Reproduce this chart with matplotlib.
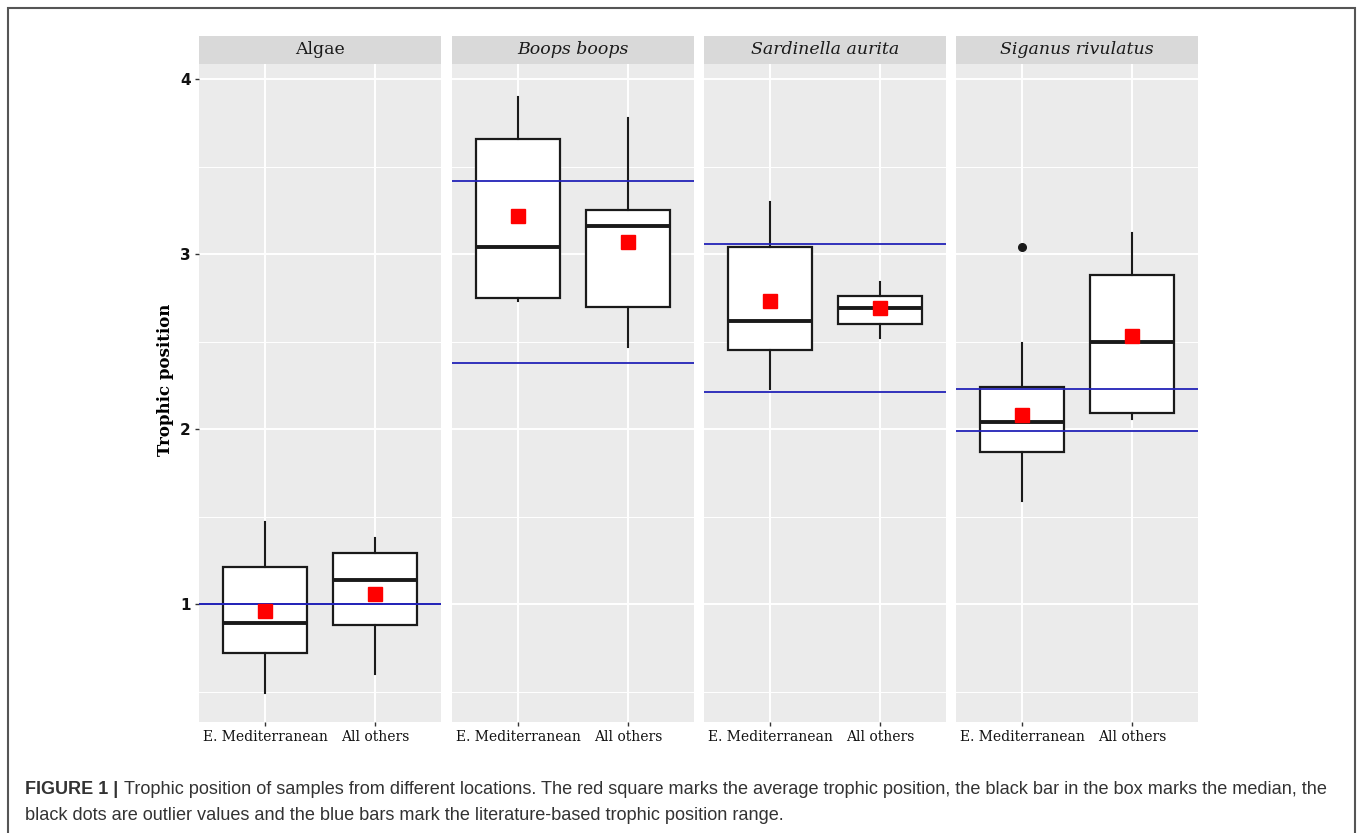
import matplotlib
matplotlib.use("Agg")
import matplotlib.pyplot as plt
from matplotlib.patches import Rectangle

# panels and groups
panels = ["Algae", "Boops boops", "Sardinella aurita", "Siganus rivulatus"]
italic_panel = [False, True, True, True]
groups = ["E. Mediterranean", "All others"]

# box statistics, one pair (E. Med, All others) per panel
whislo = [[0.49, 0.60], [2.73, 2.47], [2.23, 2.52], [1.59, 2.06]]
q1 = [[0.72, 0.88], [2.75, 2.70], [2.45, 2.60], [1.87, 2.09]]
med = [[0.89, 1.14], [3.04, 3.16], [2.62, 2.69], [2.04, 2.50]]
q3 = [[1.21, 1.29], [3.66, 3.25], [3.04, 2.76], [2.24, 2.88]]
whishi = [[1.47, 1.38], [3.90, 3.78], [3.30, 2.84], [2.49, 3.12]]
means = [[0.96, 1.06], [3.22, 3.07], [2.73, 2.69], [2.08, 2.53]]
outliers = [[[], []], [[], []], [[], []], [[3.04], []]]

# literature based trophic position range (low, high)
lit_range = [[1.0, 1.0], [2.38, 3.42], [2.21, 3.06], [1.99, 2.23]]

W, H = 1357, 833
fig = plt.figure(figsize=(W / 100, H / 100), dpi=100)

# outer frame of the figure box
fig.patches.append(Rectangle((8 / W, -0.01), (1355 - 8) / W, 1 - 8 / H + 0.01,
                             transform=fig.transFigure, fill=False,
                             edgecolor="#555555", linewidth=1.5))

panel_left = [199, 452, 704, 956]
panel_w = 242
top_px, bot_px, strip_px = 64, 722, 28

for i, name in enumerate(panels):
    l = panel_left[i] / W
    ax = fig.add_axes([l, 1 - bot_px / H, panel_w / W, (bot_px - top_px) / H])
    ax.set_facecolor("#EBEBEB")
    for s in ax.spines.values():
        s.set_visible(False)

    stats = []
    for j in range(2):
        stats.append({
            "whislo": whislo[i][j], "q1": q1[i][j], "med": med[i][j],
            "q3": q3[i][j], "whishi": whishi[i][j], "fliers": outliers[i][j],
        })
    ax.bxp(stats, positions=[1, 2], widths=0.76, patch_artist=True,
           showcaps=False, showfliers=True, zorder=3,
           boxprops=dict(facecolor="white", edgecolor="#1a1a1a", linewidth=1.6),
           medianprops=dict(color="#1a1a1a", linewidth=2.8),
           whiskerprops=dict(color="#1a1a1a", linewidth=1.5),
           flierprops=dict(marker="o", markerfacecolor="#1a1a1a",
                           markeredgecolor="#1a1a1a", markersize=5.5))

    for v in lit_range[i]:
        ax.axhline(v, color="#2323B8", linewidth=1.3, zorder=4)

    ax.plot([1, 2], means[i], linestyle="none", marker="s", markersize=10,
            color="#FF0000", zorder=5)

    ax.set_xlim(0.4, 2.6)
    ax.set_ylim(0.327, 4.087)
    ax.set_yticks([1, 2, 3, 4])
    ax.set_yticks([0.5, 1.5, 2.5, 3.5], minor=True)
    ax.set_xticks([1, 2])
    ax.set_xticklabels(groups, family="DejaVu Serif", fontsize=10, color="#111111")
    ax.grid(which="major", color="white", linewidth=1.4, zorder=0)
    ax.grid(which="minor", axis="y", color="white", linewidth=0.7, zorder=0)
    ax.set_axisbelow(True)
    ax.tick_params(axis="x", length=3, width=1, color="#333333", pad=3)
    ax.tick_params(axis="y", which="minor", length=0)
    if i == 0:
        ax.tick_params(axis="y", length=3, width=1, color="#333333",
                       labelsize=11, labelcolor="#111111", pad=3)
        for t in ax.get_yticklabels():
            t.set_fontweight("bold")
        ax.set_ylabel("Trophic position", family="DejaVu Serif",
                      fontweight="bold", fontsize=12)
        ax.yaxis.set_label_coords(-0.105, 0.52)
    else:
        ax.tick_params(axis="y", length=0, labelleft=False)

    sax = fig.add_axes([l, 1 - top_px / H, panel_w / W, strip_px / H])
    sax.set_facecolor("#D9D9D9")
    sax.set_xticks([])
    sax.set_yticks([])
    for s in sax.spines.values():
        s.set_visible(False)
    sax.text(0.5, 0.5, name, transform=sax.transAxes, ha="center", va="center",
             family="DejaVu Serif", fontsize=12.5, color="#1a1a1a",
             style="italic" if italic_panel[i] else "normal")

cap_font = ["Liberation Sans", "DejaVu Sans"]
fig.text(25 / W, 1 - 790 / H, "FIGURE 1 |", family=cap_font, fontweight="bold",
         fontsize=13, color="#333333", va="center")
fig.text(124 / W, 1 - 790 / H,
         "Trophic position of samples from different locations. The red square marks "
         "the average trophic position, the black bar in the box marks the median, the",
         family=cap_font, fontsize=13.1, color="#333333", va="center")
fig.text(25 / W, 1 - 815 / H,
         "black dots are outlier values and the blue bars mark the literature-based "
         "trophic position range.",
         family=cap_font, fontsize=13.1, color="#333333", va="center")

fig.savefig("out.png", dpi=100)
